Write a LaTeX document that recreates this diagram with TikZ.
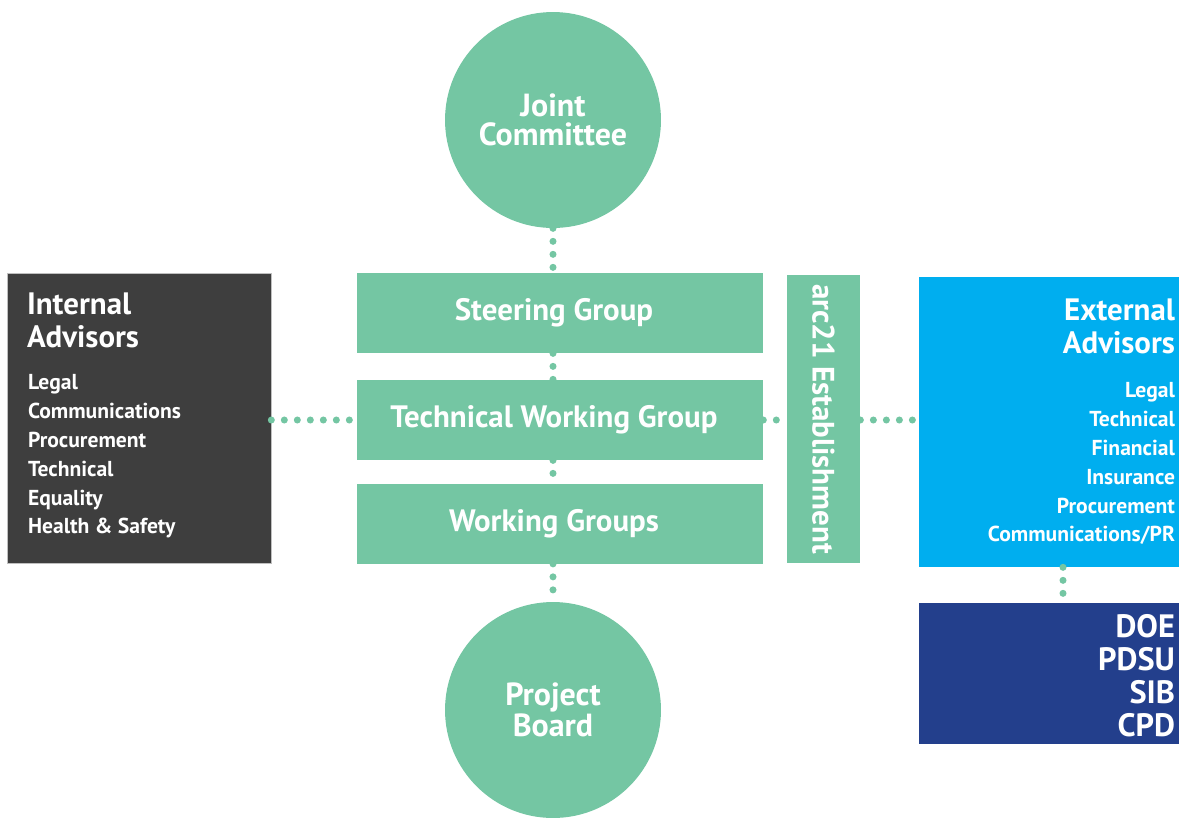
\documentclass[tikz,border=0pt]{standalone}
\usepackage{fontspec}
\setmainfont{PT Sans}
\usetikzlibrary{positioning}
\definecolor{custom-green}{RGB}{116, 198, 163}
\definecolor{custom-grey}{RGB}{62, 62, 62}
\definecolor{custom-blue}{RGB}{0, 174, 239}
\definecolor{custom-navy}{RGB}{35, 63, 140}

\begin{document}
\begin{tikzpicture}[x=0.02cm, y=-0.02cm,
    groupbox/.style={fill=custom-green, minimum width=8.12cm, minimum height=1.6cm},
    grouptext/.style={text=white, font=\bfseries\fontsize{17.6}{19}\selectfont},
    circlebox/.style={circle, fill=custom-green, minimum size=4.32cm, text=white, align=center, font=\bfseries\fontsize{18.2}{16.5}\selectfont},
    titletext/.style={text=white, inner sep=0pt, font=\bfseries\fontsize{17.6}{18.7}\selectfont},
    listtext/.style={text=white, inner sep=0pt, font=\bfseries\fontsize{12.3}{16.4}\selectfont},
    dots/.style={custom-green, line width=4pt, line cap=round, dash pattern=on 0pt off 7.4pt}]
\useasboundingbox (0,0) rectangle (1179,819);
% centre column
\node[circlebox] (jc) at (553,120) {Joint\\Committee};
\node[groupbox] (sg) at (560,313) {};
\node[grouptext] (sg-text) at ([xshift=-0.12cm]sg.center) {Steering Group};
\node[groupbox] (twg) at (560,420) {};
\node[grouptext] (twg-text) at ([xshift=-0.12cm]twg.center) {Technical Working Group};
\node[groupbox] (wg) at (560,523.5) {};
\node[grouptext] (wg-text) at ([xshift=-0.12cm]wg.center) {Working Groups};
\node[circlebox] (pb) at (553,710) {Project\\Board};
\node[fill=custom-green, minimum width=1.46cm, minimum height=5.76cm] (arc) at (823.5,419) {};
\node[rotate=-90, grouptext] (arc-text) at (arc.center) {arc21 Establishment};
% advisors
\node[fill=custom-grey, draw=black!25, minimum width=5.28cm, minimum height=5.8cm] (ia) at (139,418) {};
\node[titletext, anchor=north west, align=left] (ia-title) at ([shift={(20,20)}]ia.north west) {Internal\\Advisors};
\node[listtext, anchor=north west, align=left] (ia-list) at ([shift={(1,26)}]ia-title.south west) {Legal\\Communications\\Procurement\\Technical\\Equality\\Health \& Safety};
\node[fill=custom-blue, minimum width=5.2cm, minimum height=5.8cm] (ea) at (1049,422) {};
\node[titletext, anchor=north east, align=right] (ea-title) at ([shift={(-4,22)}]ea.north east) {External\\Advisors};
\node[listtext, anchor=north east, align=right] (ea-list) at ([shift={(0,28)}]ea-title.south east) {Legal\\Technical\\Financial\\Insurance\\Procurement\\Communications/PR};
\node[fill=custom-navy, minimum width=5.2cm, minimum height=2.82cm] (doe) at (1049,673.5) {};
\node[titletext, anchor=north east, align=right, font=\bfseries\fontsize{18.4}{18.9}\selectfont] (doe-list) at ([shift={(-4,11)}]doe.north east) {DOE\\PDSU\\SIB\\CPD};
% dotted links
\draw[dots] (jc.south) -- (sg.north -| jc.center);
\draw[dots] (sg.south -| jc.center) -- (twg.north -| jc.center);
\draw[dots] (twg.south -| jc.center) -- (wg.north -| jc.center);
\draw[dots] (wg.south -| jc.center) -- (pb.north);
\draw[dots] (ia.east |- twg.west) -- (twg.west);
\draw[dots] (twg.east) -- (arc.west |- twg.east);
\draw[dots] (arc.east |- twg.east) -- (ea.west |- twg.east);
\draw[dots] ([xshift=0.28cm]ea.south) -- ([xshift=0.28cm]doe.north);
\end{tikzpicture}
\end{document}
